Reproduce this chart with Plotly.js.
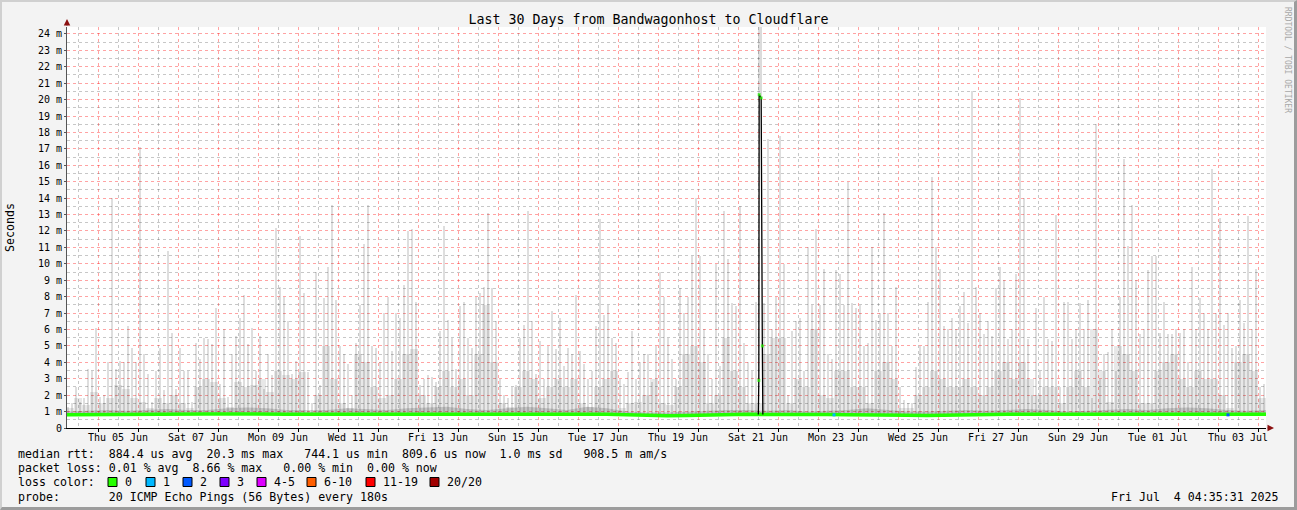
<!DOCTYPE html>
<html><head><meta charset="utf-8">
<script src="https://cdn.plot.ly/plotly-3.0.1.min.js"></script>
<style>
html,body{margin:0;padding:0;background:#f3f3f3;}
#wrap{position:relative;width:1297px;height:510px;overflow:hidden;}
#chart{position:absolute;left:0;top:0;width:1297px;height:510px;}
#frame{position:absolute;left:0;top:0;width:1297px;height:510px;box-sizing:border-box;border-top:2px solid #d0d0d0;border-left:2px solid #d0d0d0;border-right:3px solid #9c9c9c;border-bottom:3px solid #9c9c9c;pointer-events:none;}
</style></head>
<body><div id="wrap"><div id="chart"></div><div id="frame"></div></div>
<script>
// ---------- DATA (time in hours since 2025-06-04 00:00, values in ms) ----------
const TITLE = 'Last 30 Days from Bandwagonhost to Cloudflare';
const startHour = 5.4, endHour = 724.8;

const tickHours = [36, 84, 132, 180, 228, 276, 324, 372, 420, 468, 516, 564, 612, 660, 708];
const tickLabels = ['Thu 05 Jun','Sat 07 Jun','Mon 09 Jun','Wed 11 Jun','Fri 13 Jun','Sun 15 Jun','Tue 17 Jun',
  'Thu 19 Jun','Sat 21 Jun','Mon 23 Jun','Wed 25 Jun','Fri 27 Jun','Sun 29 Jun','Tue 01 Jul','Thu 03 Jul'];
const yTickVals = [0,1,2,3,4,5,6,7,8,9,10,11,12,13,14,15,16,17,18,19,20,21,22,23,24];
const yTickLabels = ['0','1 m','2 m','3 m','4 m','5 m','6 m','7 m','8 m','9 m','10 m','11 m','12 m','13 m','14 m',
  '15 m','16 m','17 m','18 m','19 m','20 m','21 m','22 m','23 m','24 m'];

// smoke: highest ping per 2.4 h slot (ms)
const peakStart = 6.0, peakStep = 2.4;
const smokePeak = [
 1.3,1.5,2.5,1.6,1.8,3.6,3.5,6.1,1.9,2.0, 4.0,14.0,3.6,4.1,4.0,6.2,4.9,4.0,17.1,4.5,
 3.3,1.6,3.5,4.9,2.3,10.8,5.8,2.4,4.9,3.5, 3.5,1.6,5.2,4.2,5.5,5.4,5.1,7.3,2.7,6.0,
 1.9,4.5,5.6,6.7,8.1,5.1,6.1,3.5,5.6,2.4, 4.5,3.2,12.2,8.6,8.0,6.5,3.3,4.1,11.7,8.2,
 3.4,1.5,9.5,2.6,7.9,9.8,13.6,7.8,5.0,4.5, 3.9,2.0,5.2,7.5,11.2,13.6,5.0,4.9,4.0,7.0,
 8.0,4.7,7.0,6.7,8.7,12.0,12.1,7.7,2.6,3.0, 3.2,3.1,2.8,5.9,12.3,6.6,5.5,3.6,7.4,7.7,
 5.5,4.9,8.0,8.2,8.6,13.1,8.5,6.5,3.0,2.0, 1.8,2.5,2.6,5.5,6.3,13.2,6.5,3.3,5.3,3.0,
 5.0,7.1,4.8,6.7,3.8,4.9,4.5,8.1,4.7,3.9, 3.0,3.5,6.2,12.7,6.9,7.5,5.5,5.2,3.0,2.7,
 3.4,5.9,3.0,4.0,4.5,4.5,2.8,5.0,9.5,8.0, 5.5,4.2,3.0,8.5,7.0,8.0,10.5,14.0,10.5,6.0,
 4.5,3.0,10.0,3.8,13.2,10.3,7.6,7.4,13.5,5.2, 4.0,3.5,7.7,1.0,7.6,17.6,6.0,8.0,17.8,10.0,
 2.0,5.9,6.5,6.7,3.5,11.0,7.5,12.1,7.5,9.7, 4.5,4.2,9.6,9.4,7.5,15.0,7.6,7.3,7.5,5.0,
 5.2,11.0,6.6,7.0,13.1,7.0,5.0,8.6,2.5,1.7, 1.5,1.5,3.7,5.0,5.0,7.7,15.3,11.0,9.7,6.2,
 6.0,6.7,6.0,7.4,8.3,6.4,20.5,8.6,7.0,5.7, 6.5,5.6,8.5,9.8,9.0,5.4,6.0,9.4,20.1,14.0,
 5.4,2.0,7.3,3.5,8.0,5.4,5.3,13.0,2.5,7.7, 7.7,5.4,6.0,7.6,6.0,7.8,1.8,18.5,3.0,4.5,
 4.6,6.0,3.5,8.0,16.4,11.1,13.6,9.0,5.7,6.0, 9.6,10.5,10.5,5.8,7.7,5.7,5.7,6.0,5.8,6.0,
 4.0,9.8,6.0,7.9,7.0,6.0,15.8,7.0,12.8,6.3, 7.0,4.9,5.0,7.8,6.4,12.9,6.0,9.7,2.5,2.7];

// smoke: dense body of the ping spread per 4.8 h slot (ms)
const bodyStart = 7.2, bodyStep = 4.8;
const smokeBody = [
 1.2,1.8,1.4,2.2,1.5,1.8,2.6,2.4,1.8,1.6,1.2,1.8,1.5,2.0,1.5,1.2,2.5,3.0,2.8,1.8,1.3,2.8,2.5,2.6,3.0,2.2,3.5,3.2,3.0,3.4,
 1.0,2.0,5.0,3.0,1.5,1.2,4.5,4.0,2.5,1.8,2.0,3.0,4.5,4.8,2.0,1.5,2.5,3.5,2.5,3.0,2.0,4.5,7.5,4.0,1.5,1.3,2.5,3.5,3.0,1.8,
 2.5,3.0,2.5,3.0,1.5,1.3,2.5,3.0,3.5,1.2,1.5,1.6,2.0,3.0,1.5,1.4,2.5,4.5,5.0,4.0,1.5,2.0,5.5,3.5,2.5,1.5,1.5,4.5,5.5,5.5,
 1.5,3.0,2.5,6.0,2.0,1.8,3.5,3.5,2.5,2.5,1.5,3.5,4.0,3.0,1.2,1.2,2.0,2.5,3.5,3.0,2.5,2.5,3.0,2.5,2.0,2.5,3.5,4.0,3.0,4.0,
 3.0,2.0,2.5,2.5,1.5,2.5,3.5,2.5,6.0,3.5,1.6,5.0,4.5,3.5,1.5,1.5,3.5,4.0,4.5,3.0,2.5,3.5,3.0,3.0,2.0,1.2,4.0,4.5,3.5,1.8];

// median rtt and the darker smoke just above it, per 12 h (ms)
const medStart = 5.4, medStep = 12;
const medianMs = [
 0.80,0.80,0.82,0.83,0.84,0.85,0.84,0.85,0.86,0.87,0.86,0.84,0.83,
 0.83,0.84,0.85,0.86,0.85,0.84,0.85,0.87,0.86,0.85,0.84,0.85,0.86,
 0.84,0.83,0.80,0.76,0.74,0.76,0.80,0.82,0.83,0.82,0.83,0.82,0.82,
 0.80,0.81,0.80,0.78,0.76,0.79,0.82,0.82,0.83,0.83,0.83,0.78,0.80,
 0.82,0.83,0.84,0.83,0.84,0.82,0.80,0.82,0.83];
const darkTopMs = [
 1.00,1.05,1.10,1.05,1.10,1.15,1.10,1.10,1.20,1.25,1.20,1.10,1.10,
 1.10,1.20,1.15,1.10,1.20,1.25,1.30,1.15,1.10,1.20,1.30,1.20,1.10,
 1.30,1.20,1.00,0.95,0.95,1.00,1.05,1.10,1.10,1.05,1.10,1.00,1.05,
 1.10,1.20,1.10,1.00,1.00,1.05,1.10,1.05,1.10,1.15,1.10,1.00,1.05,
 1.10,1.15,1.10,1.20,1.25,1.20,1.10,1.05,1.10];

// the 21 Jun event
const spikeHours = [420.2, 420.5, 420.7, 421.9, 422.6, 422.9];
const spikeMs    = [0.82, 2.9, 20.3, 20.1, 5.0, 0.82];
const spikeSmokeHour = [421.4], spikeSmokeLow = [20.0], spikeSmokeHigh = [25.0];

// isolated loss points on the median
const lossHours = [465.6, 702.0], lossMs = [0.80, 0.80], lossPointColors = ['#00b8ff', '#0059ff'];

// legend
const lossLabels = ['0','1','2','3','4-5','6-10','11-19','20/20'];
const lossColors = ['#26ff00','#00b8ff','#0059ff','#7e00ff','#dd00ff','#ff5e00','#ff0000','#a10000'];
const statLine1 = 'median rtt:  884.4 us avg  20.3 ms max   744.1 us min  809.6 us now  1.0 ms sd   908.5 m am/s';
const statLine2 = 'packet loss: 0.01 % avg  8.66 % max   0.00 % min  0.00 % now';
const probeLine = 'probe:       20 ICMP Echo Pings (56 Bytes) every 180s';
const stampText = 'Fri Jul  4 04:35:31 2025';

// ---------- BUILD ----------
const BASE = 0.8;
const FONT = 'DejaVu Sans Mono';
const nb = s => s.replace(/ /g, '\u00a0');
const slots = (t0, step, n) => Array.from({length: n}, (_, i) => t0 + i * step);

const peakX = slots(peakStart, peakStep, smokePeak.length);
const bodyX = slots(bodyStart, bodyStep, smokeBody.length);
const medX = slots(medStart, medStep, medianMs.length);

const RED_GRID = 'rgba(255,0,0,0.36)';
const GRAY_GRID = 'rgba(0,0,0,0.22)';

const traces = [
  {type:'bar', x: bodyX, y: smokeBody.map(v => v - BASE), base: BASE, width: bodyStep * 0.95,
   marker:{color:'rgba(0,0,0,0.09)', line:{width:0}}, hoverinfo:'skip'},
  {type:'bar', x: peakX, y: smokePeak.map(v => v - BASE), base: BASE, width: peakStep * 0.62,
   marker:{color:'rgba(0,0,0,0.13)', line:{width:0}}, hoverinfo:'skip'},
  {type:'bar', x: spikeSmokeHour, y: spikeSmokeHigh.map((v, i) => v - spikeSmokeLow[i]), base: spikeSmokeLow,
   width: peakStep, marker:{color:'rgba(0,0,0,0.14)', line:{width:0}}, hoverinfo:'skip'},
  {type:'scatter', mode:'lines', x: medX, y: medianMs, line:{width:0, color:'rgba(0,0,0,0)'}, hoverinfo:'skip'},
  {type:'scatter', mode:'lines', x: medX, y: darkTopMs, fill:'tonexty', fillcolor:'rgba(0,0,0,0.16)',
   line:{width:0, color:'rgba(0,0,0,0)'}, hoverinfo:'skip'},
  {type:'scatter', mode:'lines', x: medX, y: medianMs, line:{width:3.5, color:'#22ff00'}, hoverinfo:'skip'},
  {type:'scatter', mode:'lines+markers', x: spikeHours, y: spikeMs, line:{width:1.3, color:'#000'},
   marker:{symbol:'square', size: spikeMs.map((v, i) => (i === 0 || i === spikeMs.length - 1) ? 0 : 3),
           color:'#22ff00', line:{width:0}},
   hoverinfo:'skip'},
  {type:'scatter', mode:'markers', x: lossHours, y: lossMs, marker:{symbol:'square', size:3, color: lossPointColors, line:{width:0}}, hoverinfo:'skip'},
  {type:'scatter', mode:'markers', x:[startHour], y:[null], xaxis:'x2', yaxis:'y', hoverinfo:'skip'}
];

// pixel helpers for text placed outside the plot
const PL = 67, PR = 1266, PT = 27, PB = 428;
const px = x => (x - PL) / (PR - PL);
const py = y => (PB - y) / (PB - PT);

const txt = (x, y, s, opts) => Object.assign({xref:'paper', yref:'paper', x: px(x), y: py(y), text: nb(s),
  showarrow:false, xanchor:'left', yanchor:'middle', font:{family:FONT, size:11.6, color:'#000'}}, opts || {});

const annotations = [
  txt(16, 454, statLine1),
  txt(16, 467.5, statLine2),
  txt(16, 482, 'loss color:'),
  txt(16, 496.5, probeLine),
  txt(1281, 496.5, stampText, {xanchor:'right'}),
  txt(10, 228, 'Seconds', {xanchor:'center', textangle:-90}),
  txt(1287, 60, 'RRDTOOL / TOBI OETIKER', {xanchor:'center', textangle:90, font:{family:FONT, size:8, color:'#a8a8a8'}}),
  {xref:'paper', yref:'paper', x: px(1274), y: 0, ax:-8, ay:0, text:'', showarrow:true, arrowhead:2, arrowsize:1.3,
   arrowwidth:1, arrowcolor:'#8b1010', standoff:0},
  {xref:'paper', yref:'paper', x: 0, y: py(19), ax:0, ay:8, text:'', showarrow:true, arrowhead:2, arrowsize:1.3,
   arrowwidth:1, arrowcolor:'#8b1010', standoff:0}
];
const shapes = [];
const boxX = [108, 146, 183, 220, 257, 307, 366, 430];
lossLabels.forEach((lab, i) => {
  shapes.push({type:'rect', xref:'paper', yref:'paper', x0: px(boxX[i]), x1: px(boxX[i] + 9), y0: py(486.5), y1: py(477.5),
    fillcolor: lossColors[i], line:{color:'#000', width:1}});
  annotations.push(txt(boxX[i] + 15, 482, lab));
});

const layout = {
  width:1297, height:510,
  margin:{l:PL, r:1297 - PR, t:PT, b:510 - PB, pad:0},
  paper_bgcolor:'#f3f3f3', plot_bgcolor:'#ffffff',
  showlegend:false, barmode:'overlay', bargap:0,
  font:{family:FONT, size:10, color:'#000'},
  title:{text:TITLE, font:{family:FONT, size:13.3, color:'#000'}, x:0.5, xref:'container', xanchor:'center',
         y:1 - 19/510, yref:'container', yanchor:'middle'},
  xaxis:{range:[startHour, endHour], tickmode:'array', tickvals:tickHours, ticktext:tickLabels, ticks:'',
         showgrid:false, zeroline:false, showline:true, linecolor:'#000', linewidth:1,
         tickfont:{family:FONT, size:10, color:'#000'}, fixedrange:true},
  xaxis2:{overlaying:'x', side:'bottom', range:[startHour, endHour], tickmode:'linear', tick0:0, dtick:24,
          showgrid:true, gridcolor:RED_GRID, griddash:'dot', gridwidth:1,
          ticks:'outside', ticklen:3, tickcolor:'#000', showticklabels:false, zeroline:false, showline:false,
          minor:{tickmode:'linear', tick0:12, dtick:24, showgrid:true, gridcolor:GRAY_GRID, griddash:'dot', ticks:''}},
  yaxis:{range:[0, 24.42], tickmode:'array', tickvals:yTickVals, ticktext:yTickLabels,
         showgrid:true, gridcolor:RED_GRID, griddash:'dot', gridwidth:1,
         minor:{tickmode:'linear', tick0:0.5, dtick:1, showgrid:true, gridcolor:GRAY_GRID, griddash:'dot', ticks:''},
         zeroline:false, showline:true, linecolor:'#555', linewidth:1, ticks:'outside', ticklen:2, tickcolor:'#555',
         tickfont:{family:FONT, size:10, color:'#000'}, fixedrange:true},
  annotations, shapes
};

Plotly.newPlot('chart', traces, layout, {staticPlot:true, displayModeBar:false});
</script></body></html>
